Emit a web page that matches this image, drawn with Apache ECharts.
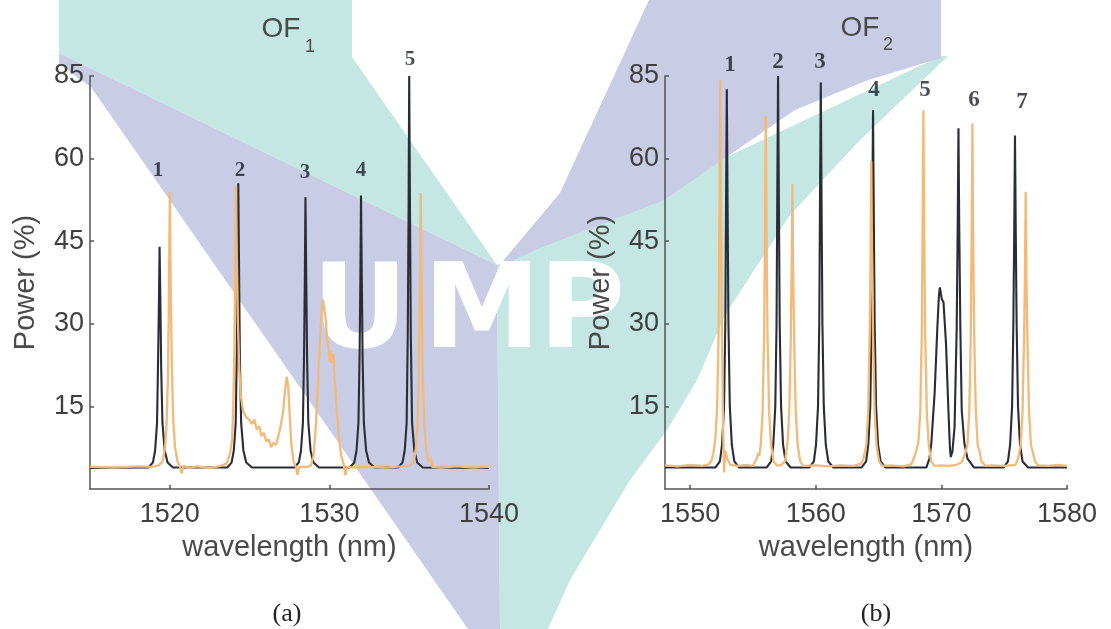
<!DOCTYPE html>
<html>
<head>
<meta charset="utf-8">
<script src="https://cdn.jsdelivr.net/npm/echarts@6.0.0/dist/echarts.min.js"></script>
<style>
  html, body { margin: 0; padding: 0; background: #fff; }
  #main { width: 1111px; height: 629px; }
</style>
</head>
<body>
<div id="main"></div>
<script>
// --- data: [wavelength nm, power %] ---
// panel (a) OF1
var blackA = [
  [1515.0,3.8],
  [1518.66,3.9],[1518.94,4.8],[1519.08,7],[1519.2,12],[1519.27,24],[1519.32,34],[1519.36,44],[1519.41,34],[1519.46,22],[1519.54,12],[1519.68,7],[1519.86,4.8],[1520.2,3.9],
  [1523.6,3.9],[1523.87,4.8],[1524.01,7],[1524.13,12],[1524.2,25],[1524.25,40],[1524.29,55.5],[1524.34,40],[1524.39,24],[1524.47,12],[1524.61,7],[1524.79,4.8],[1525.15,3.9],
  [1527.8,3.9],[1528.08,4.8],[1528.22,7],[1528.34,12],[1528.41,24],[1528.46,38],[1528.5,53],[1528.55,38],[1528.6,24],[1528.68,12],[1528.82,7],[1529.0,4.8],[1529.35,3.9],
  [1531.28,3.9],[1531.56,4.8],[1531.7,7],[1531.82,12],[1531.89,24],[1531.94,38],[1531.98,53.3],[1532.03,38],[1532.08,24],[1532.16,12],[1532.3,7],[1532.48,4.8],[1532.83,3.9],
  [1534.3,3.9],[1534.58,4.8],[1534.72,7],[1534.84,12],[1534.91,28],[1534.96,50],[1535.0,75],[1535.05,50],[1535.1,28],[1535.18,12],[1535.32,7],[1535.5,4.8],[1535.85,3.9],
  [1540.0,3.8]
];
var orangeA = [
  [1515.0,4.0],[1516.5,3.9],[1518.0,4.1],[1518.9,4.0],[1519.3,4.3],
  [1519.55,5.0],[1519.7,7.5],[1519.8,12],[1519.88,20],[1519.94,33],[1520.0,54],[1520.06,36],[1520.13,22],[1520.22,12],[1520.33,7.5],[1520.48,5.0],[1520.65,3.9],[1520.75,2.8],[1520.85,4.2],
  [1521.2,3.8],[1521.7,4.1],[1522.5,3.8],[1523.2,4.2],[1523.55,4.6],[1523.68,5.6],[1523.78,6.5],
  [1523.9,9],[1523.98,15],[1524.05,26],[1524.1,40],[1524.15,55],[1524.2,42],[1524.27,30],[1524.35,22],[1524.45,17],[1524.6,14],[1524.8,13],
  [1525.0,12.5],[1525.15,11.8],[1525.3,12.6],[1525.45,10.8],[1525.6,11.4],[1525.75,9.6],[1525.9,10.2],[1526.05,8.6],[1526.2,9.0],[1526.35,7.6],[1526.5,8.4],[1526.65,8.0],[1526.8,9.6],[1526.95,11.5],[1527.1,14],[1527.22,18],[1527.33,20.4],[1527.42,18.5],[1527.52,13],[1527.62,8],[1527.75,5],[1527.9,4],[1528.0,2.6],[1528.1,4.0],[1528.6,4.0],[1528.85,4.3],
  [1529.0,6],[1529.12,10],[1529.25,17],[1529.35,23.4],[1529.45,29],[1529.52,32.5],[1529.6,34.4],[1529.68,32.5],[1529.77,30.7],[1529.86,27],[1529.95,25.5],[1530.03,23],[1530.1,25],[1530.17,22.8],[1530.25,24.5],[1530.33,20],[1530.42,16],[1530.52,12],[1530.63,8.5],[1530.75,6],[1530.9,4.4],[1531.0,2.5],[1531.1,4.0],
  [1531.5,3.9],[1532.5,4.0],[1533.5,3.9],[1534.5,4.1],[1535.05,4.3],
  [1535.3,5.0],[1535.42,7.5],[1535.52,12],[1535.6,20],[1535.66,33],[1535.72,53.8],[1535.78,35],[1535.85,21],[1535.94,12],[1536.05,7.5],[1536.2,5.0],[1536.35,5.5],[1536.45,4.0],
  [1537.0,3.9],[1538.0,4.1],[1539.0,3.9],[1540.0,4.0]
];
// panel (b) OF2
var blackB = [
  [1548.0,3.9],
  [1552.0,3.9],[1552.37,5],[1552.54,8],[1552.7,15],[1552.8,30],[1552.86,52],[1552.92,72.6],[1552.98,52],[1553.05,30],[1553.16,15],[1553.32,8],[1553.52,5],[1553.9,3.9],
  [1556.08,3.9],[1556.45,5],[1556.62,8],[1556.78,15],[1556.88,30],[1556.94,54],[1557.0,75],[1557.06,54],[1557.13,30],[1557.24,15],[1557.4,8],[1557.6,5],[1558.0,3.9],
  [1559.48,3.9],[1559.85,5],[1560.02,8],[1560.18,15],[1560.28,30],[1560.34,53],[1560.4,73.8],[1560.46,53],[1560.53,30],[1560.64,15],[1560.8,8],[1561.0,5],[1561.4,3.9],
  [1563.64,3.9],[1564.01,5],[1564.18,8],[1564.34,15],[1564.44,30],[1564.5,50],[1564.56,68.8],[1564.62,50],[1564.69,30],[1564.8,15],[1564.96,8],[1565.16,5],[1565.55,3.9],
  [1568.8,3.9],[1569.05,5.5],[1569.2,8.3],[1569.46,17.3],[1569.68,29.3],[1569.8,35],[1569.88,36.6],[1570.03,34.5],[1570.17,33.9],[1570.37,26.4],[1570.56,14.3],[1570.68,7.5],[1570.75,5.8],[1570.88,6.8],[1571.05,11.3],[1571.22,29.3],[1571.3,48],[1571.36,65.5],[1571.42,48],[1571.51,29.3],[1571.62,14.3],[1571.83,8.3],[1572.08,5.5],[1572.6,3.9],
  [1574.95,3.9],[1575.3,5],[1575.47,8],[1575.63,15],[1575.73,30],[1575.8,47],[1575.86,64.2],[1575.92,47],[1575.99,30],[1576.1,15],[1576.26,8],[1576.46,5],[1576.9,3.9],
  [1580.0,3.9]
];
var orangeB = [
  [1548.0,4.3],[1549.0,4.1],[1550.0,4.4],[1551.0,4.2],[1551.5,4.5],[1551.7,5.2],
  [1551.85,6.5],[1552.0,9],[1552.15,15],[1552.27,29],[1552.34,52],[1552.4,74.3],[1552.46,52],[1552.53,29],[1552.62,12],[1552.7,3.0],[1552.8,7],[1552.95,5.5],[1553.2,4.4],
  [1553.8,4.2],[1554.5,4.4],[1555.0,4.2],[1555.3,5.5],[1555.42,6.5],[1555.5,6.0],
  [1555.62,8],[1555.77,14],[1555.89,28],[1555.96,47],[1556.02,67.7],[1556.08,47],[1556.16,28],[1556.29,14],[1556.44,8],[1556.64,5],[1556.9,4.3],[1557.2,4.3],[1557.55,5],
  [1557.74,8],[1557.89,14],[1558.01,27],[1558.08,40],[1558.14,55.4],[1558.2,40],[1558.28,27],[1558.41,14],[1558.56,8],[1558.76,5],[1559.0,4.2],
  [1560.0,4.3],[1561.0,4.1],[1562.0,4.3],[1563.0,4.2],[1563.6,4.6],[1563.8,5.5],
  [1564.02,8],[1564.17,14],[1564.29,28],[1564.36,42],[1564.42,59.5],[1564.48,42],[1564.56,28],[1564.69,14],[1564.84,8],[1565.04,5],[1565.3,4.2],
  [1566.0,4.3],[1567.0,4.1],[1567.6,4.5],[1567.85,5.8],[1568.0,7.0],
  [1568.17,8.5],[1568.32,14],[1568.44,28],[1568.51,48],[1568.57,68.8],[1568.63,48],[1568.71,28],[1568.84,14],[1568.99,8],[1569.19,5],[1569.45,4.2],
  [1570.0,4.3],[1570.6,4.2],[1571.2,4.4],[1571.6,4.8],[1571.9,6.5],
  [1572.07,8],[1572.22,14],[1572.34,28],[1572.41,46],[1572.47,66.4],[1572.53,46],[1572.61,28],[1572.74,14],[1572.89,8],[1573.05,6.7],[1573.2,5],[1573.5,4.2],
  [1574.0,4.3],[1575.0,4.2],[1575.9,4.4],[1576.1,5.5],
  [1576.31,8],[1576.46,14],[1576.58,27],[1576.65,38],[1576.71,54],[1576.77,38],[1576.85,27],[1576.98,14],[1577.13,8],[1577.3,6.5],[1577.45,5],[1577.7,4.3],
  [1578.5,4.2],[1579.3,4.4],[1580.0,4.2]
];

// peak numbers: [wavelength, power, text]
var peakLabelsA = [[1519.26,57.9,'1'],[1524.4,57.9,'2'],[1528.47,57.5,'3'],[1531.98,57.9,'4'],[1535.05,77.9,'5']];
var peakLabelsB = [[1553.18,77,'1'],[1557.0,77.5,'2'],[1560.34,77.5,'3'],[1564.64,72.5,'4'],[1568.7,72.5,'5'],[1572.6,70.7,'6'],[1576.41,70.3,'7']];

// axis ticks
var xTicksA = [1520, 1530, 1540];
var xTicksB = [1550, 1560, 1570, 1580];
var yTickValues = [15, 30, 45, 60, 75];
var yTickLabels = ['15', '30', '45', '60', '85'];

var sansFont = '"Liberation Sans", Arial, sans-serif';
var serifFont = '"Liberation Serif", "Times New Roman", serif';
var axisColor = '#555';
var textColor = '#3f3f3f';
var blackColor = '#2b2d36';
var orangeColor = '#f3b978';

function makeX(gi, min, max, ticks) {
  return {
    type: 'value', gridIndex: gi, min: min, max: max, z: 5,
    axisLine: {show: true, onZero: false, lineStyle: {color: axisColor, width: 1.5}},
    axisTick: {show: true, inside: true, length: 4, customValues: ticks, lineStyle: {color: axisColor, width: 1.5}},
    axisLabel: {
      customValues: ticks, margin: 12, fontSize: 27, color: textColor, fontFamily: sansFont,
      formatter: function (v) { return String(v); }
    },
    splitLine: {show: false},
    name: 'wavelength (nm)', nameLocation: 'middle', nameGap: 44,
    nameTextStyle: {fontSize: 29, color: '#4a4a4a', fontFamily: sansFont}
  };
}
function makeY(gi) {
  return {
    type: 'value', gridIndex: gi, min: 0, max: 75, z: 5,
    axisLine: {show: true, onZero: false, lineStyle: {color: axisColor, width: 1.5}},
    axisTick: {show: true, inside: true, length: 4, customValues: yTickValues, lineStyle: {color: axisColor, width: 1.5}},
    axisLabel: {
      customValues: yTickValues, margin: 6, fontSize: 27, color: textColor, fontFamily: sansFont,
      formatter: function (v) { return yTickLabels[yTickValues.indexOf(v)]; }
    },
    splitLine: {show: false},
    name: 'Power (%)', nameLocation: 'middle', nameGap: 50, nameRotate: 90,
    nameTextStyle: {fontSize: 29, color: '#4a4a4a', fontFamily: sansFont}
  };
}
function lineSeries(gi, data, color, width) {
  return {
    type: 'line', xAxisIndex: gi, yAxisIndex: gi, data: data, z: 6,
    showSymbol: false, symbol: 'none', smooth: false, silent: true,
    lineStyle: {color: color, width: width}
  };
}
function labelSeries(gi, data, size) {
  return {
    type: 'scatter', xAxisIndex: gi, yAxisIndex: gi, data: data, z: 8,
    symbolSize: 1, clip: false, silent: true,
    itemStyle: {color: 'rgba(0,0,0,0)'},
    label: {
      show: true, position: 'inside', formatter: function (p) { return p.value[2]; },
      fontFamily: serifFont, fontWeight: 'bold', fontSize: size, color: '#1c1f2a'
    }
  };
}

// watermark shapes (background decoration)
var wm = [
  {pts: [[59,0],[352,0],[352,57],[497,265],[59,53]], fill: '#c4e7e4'},
  {pts: [[497,265],[941,56],[948,56],[860,140],[790,215],[725,315],[697,380],[667,430],[630,480],[600,530],[570,580],[548,629],[500,629]], fill: '#c4e7e4'},
  {pts: [[59,53],[497,265],[500,629],[468,629],[91,87],[59,64]], fill: '#c8cde5'},
  {pts: [[497,268],[560,193],[649,0],[941,0],[941,58],[868,80],[795,110],[722,160],[664,200],[540,248]], fill: '#c8cde5'}
];
var graphics = wm.map(function (w) {
  return {type: 'polygon', z: 0, silent: true, shape: {points: w.pts}, style: {fill: w.fill}};
});
['U', 'M', 'P'].forEach(function (ch, i) {
  graphics.push({type: 'text', z: 1, silent: true, x: [360, 482, 582][i], y: 316,
    style: {text: ch, font: 'bold 118px "DejaVu Sans"', fill: '#ffffff', align: 'center', verticalAlign: 'middle'}});
});
function txt(s, x, y, size, font, color) {
  graphics.push({type: 'text', z: 20, silent: true, x: x, y: y,
    style: {text: s, font: size + 'px ' + font, fill: color, align: 'center', verticalAlign: 'middle'}});
}
txt('OF', 281, 29, 28, sansFont, '#4a4a4a');
txt('1', 310, 47, 18, sansFont, '#4a4a4a');
txt('OF', 860, 28, 28, sansFont, '#4a4a4a');
txt('2', 888, 45, 18, sansFont, '#4a4a4a');
txt('(a)', 287, 614, 26, serifFont, '#222');
txt('(b)', 876, 614, 26, serifFont, '#222');

var chart = echarts.init(document.getElementById('main'));
chart.setOption({
  backgroundColor: '#fff',
  animation: false,
  grid: [
    {left: 90, top: 76, width: 399, height: 413},
    {left: 665, top: 76, width: 402, height: 413}
  ],
  xAxis: [makeX(0, 1515, 1540, xTicksA), makeX(1, 1548, 1580, xTicksB)],
  yAxis: [makeY(0), makeY(1)],
  graphic: graphics,
  series: [
    lineSeries(0, blackA, blackColor, 2.1),
    lineSeries(0, orangeA, orangeColor, 2.3),
    lineSeries(1, blackB, blackColor, 2.1),
    lineSeries(1, orangeB, orangeColor, 2.3),
    labelSeries(0, peakLabelsA, 21),
    labelSeries(1, peakLabelsB, 23)
  ]
});
</script>
</body>
</html>
